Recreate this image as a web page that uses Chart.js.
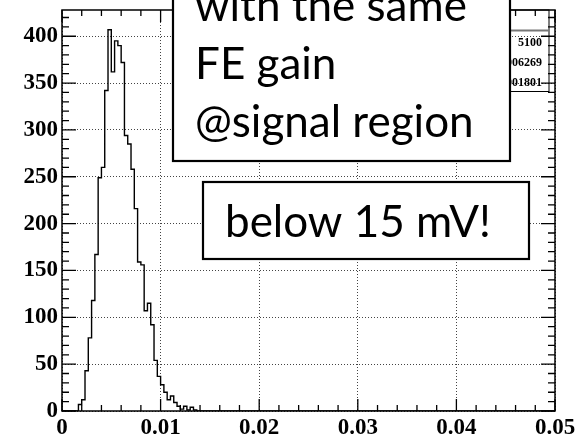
<!DOCTYPE html>
<html>
<head>
<meta charset="utf-8">
<script src="https://cdn.jsdelivr.net/npm/chart.js"></script>
<style>
  html, body { margin: 0; padding: 0; background: #fff; }
  #wrap { width: 578px; height: 436px; }
</style>
</head>
<body>
<div id="wrap"><canvas id="hist"></canvas></div>
<script>
// histogram binning (150 bins over 0 .. 0.05)
const nBins = 150;
const xMin = 0;
const xMax = 0.05;
const firstBin = 6; // first non-empty bin
const counts = [7, 12, 43, 78, 118, 167, 249, 260, 342, 407, 362, 395, 390, 372, 294, 285,
                258, 216, 159, 156, 107, 115, 92, 54, 37, 28, 20, 12, 16, 9, 5, 2, 5, 1, 4, 1];
const yMax = 428;

// tick labels
const xTicks = [0, 0.01, 0.02, 0.03, 0.04, 0.05];
const xLabels = ['0', '0.01', '0.02', '0.03', '0.04', '0.05'];
const yTicks = [0, 50, 100, 150, 200, 250, 300, 350, 400];

// stats box
const statNames = ['Entries', 'Mean', 'RMS'];
const statValues = ['5100', '0.006269', '0.001801'];

// overlaid notes
const note1 = ['with the same', 'FE gain', '@signal region'];
const note2 = 'below 15 mV!';

// build step points from bins
const binW = (xMax - xMin) / nBins;
const pts = [];
for (let i = 0; i < nBins; i++) {
    const k = i - firstBin;
    const c = (k >= 0 && k < counts.length) ? counts[k] : 0;
    pts.push({ x: xMin + i * binW, y: c });
}
pts.push({ x: xMax, y: pts[pts.length - 1].y });

const serif = '"Liberation Serif", "DejaVu Serif", serif';
const sans = 'Lato, "Open Sans", sans-serif';

// frame, ticks, stats box and notes
const rootFrame = {
    id: 'rootFrame',
    afterDatasetsDraw(chart) {
        const ctx = chart.ctx;
        const xs = chart.scales.x, ys = chart.scales.y;
        const a = chart.chartArea;
        ctx.save();
        ctx.strokeStyle = '#000';
        ctx.lineWidth = 1.5;
        ctx.strokeRect(a.left, a.top, a.right - a.left, a.bottom - a.top);

        ctx.lineWidth = 1.3;
        ctx.beginPath();
        // x ticks bottom + top
        for (let v = 0; v <= 25; v++) {
            const px = xs.getPixelForValue(v * 0.002);
            const len = v % 5 === 0 ? 12 : 6;
            ctx.moveTo(px, a.bottom); ctx.lineTo(px, a.bottom - len);
            ctx.moveTo(px, a.top); ctx.lineTo(px, a.top + len);
        }
        // y ticks left + right
        for (let v = 0; v * 10 <= yMax; v++) {
            const py = ys.getPixelForValue(v * 10);
            const len = v % 5 === 0 ? 14 : 7;
            ctx.moveTo(a.left, py); ctx.lineTo(a.left + len, py);
            ctx.moveTo(a.right, py); ctx.lineTo(a.right - len, py);
        }
        ctx.stroke();

        // stats box (mostly hidden behind the note)
        const sx0 = 455, sx1 = 549, sy0 = a.top, sy1 = 91.5;
        ctx.lineWidth = 1;
        ctx.strokeRect(sx0, sy0, sx1 - sx0, sy1 - sy0);
        ctx.strokeStyle = '#777';
        ctx.lineWidth = 2;
        ctx.beginPath(); ctx.moveTo(sx0, 30.5); ctx.lineTo(sx1, 30.5); ctx.stroke();
        ctx.fillStyle = '#000';
        ctx.font = 'bold 12px ' + serif;
        ctx.textBaseline = 'alphabetic';
        statValues.forEach((s, i) => {
            ctx.textAlign = 'left';
            ctx.fillText(statNames[i], sx0 + 4, 46 + i * 20);
            ctx.textAlign = 'right';
            ctx.fillText(s, 542, 46 + i * 20);
        });

        // note boxes
        ctx.strokeStyle = '#000';
        ctx.lineWidth = 2.2;
        ctx.fillStyle = '#fff';
        ctx.fillRect(173, -5, 337, 166);
        ctx.strokeRect(173, -5, 337, 166);
        ctx.fillRect(203, 182, 326, 77);
        ctx.strokeRect(203, 182, 326, 77);

        ctx.fillStyle = '#000';
        ctx.font = '44px ' + sans;
        ctx.textAlign = 'left';
        note1.forEach((t, i) => ctx.fillText(t, 195, 21 + i * 58));
        ctx.fillText(note2, 225, 237);
        ctx.restore();
    }
};

new Chart(document.getElementById('hist'), {
    type: 'line',
    data: {
        datasets: [{
            data: pts,
            stepped: 'after',
            borderColor: '#000',
            borderWidth: 1.4,
            pointRadius: 0,
            fill: false
        }]
    },
    options: {
        responsive: true,
        maintainAspectRatio: false,
        animation: false,
        layout: { padding: { top: 10, right: 23, left: 0, bottom: 0 } },
        plugins: { legend: { display: false }, tooltip: { enabled: false } },
        scales: {
            x: {
                type: 'linear',
                min: xMin,
                max: xMax,
                afterBuildTicks: s => { s.ticks = xTicks.map(v => ({ value: v })); },
                afterFit: s => { s.height = 25; s.paddingLeft = 0; s.paddingRight = 0; },
                ticks: {
                    autoSkip: false,
                    maxRotation: 0,
                    padding: 3,
                    color: '#000',
                    font: { family: serif, size: 23, weight: 'bold' },
                    callback: (v, i) => xLabels[i]
                },
                grid: { color: '#444', lineWidth: 1, drawTicks: false },
                border: { display: false, dash: [1, 2] }
            },
            y: {
                min: 0,
                max: yMax,
                afterBuildTicks: s => { s.ticks = yTicks.map(v => ({ value: v })); },
                afterFit: s => { s.width = 62; s.paddingTop = 0; s.paddingBottom = 0; },
                ticks: {
                    padding: 4,
                    color: '#000',
                    font: { family: serif, size: 23, weight: 'bold' }
                },
                grid: { color: '#444', lineWidth: 1, drawTicks: false },
                border: { display: false, dash: [1, 2] }
            }
        }
    },
    plugins: [rootFrame]
});
</script>
</body>
</html>
